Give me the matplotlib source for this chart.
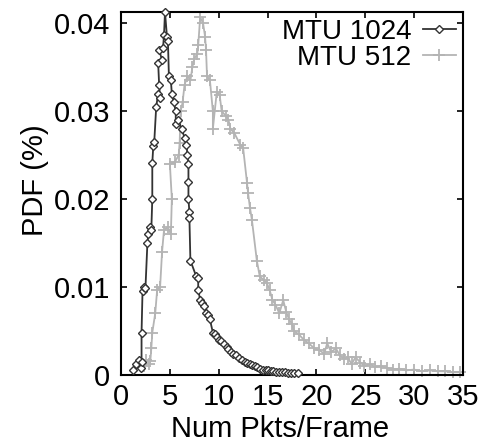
import matplotlib
matplotlib.use("Agg")
import matplotlib.pyplot as plt

# MTU 1024 (dark, diamonds)
x_1024 = [1.2, 1.5, 1.8, 2.0, 2.1, 2.1, 2.2, 2.3, 2.5, 2.7, 2.8, 3.0, 3.1, 3.2,
          3.2, 3.3, 3.4, 3.6, 3.8, 4.0, 3.9, 3.8, 4.2, 3.9, 4.3, 4.4, 4.5, 4.7,
          4.8, 4.9, 5.1, 5.2, 5.4, 5.6, 5.6, 5.8, 6.2, 6.5, 6.7, 6.8, 6.9, 6.9,
          6.9, 7.0, 7.0, 7.1, 7.7, 7.9, 7.9, 8.1, 8.3, 8.5, 8.7, 8.9, 9.1, 9.4,
          9.6, 9.8, 10.0, 10.2, 10.5, 10.8, 11.0, 11.3, 11.5, 11.8, 12.1, 12.4,
          12.7, 12.9, 13.2, 13.4, 13.7, 13.9, 14.2, 14.5, 14.8, 15.0, 15.3, 15.6,
          15.9, 16.2, 16.5, 16.8, 17.1, 17.4, 17.7, 18.1]
y_1024 = [0.0006, 0.0012, 0.0017, 0.0008, 0.0015, 0.0048, 0.0095, 0.0100, 0.0099,
          0.0150, 0.0160, 0.0168, 0.0165, 0.0200, 0.0241, 0.0260, 0.0265, 0.0305,
          0.0320, 0.0315, 0.0330, 0.0355, 0.0358, 0.0370, 0.0372, 0.0387, 0.0413,
          0.0385, 0.0380, 0.0340, 0.0335, 0.0320, 0.0310, 0.0300, 0.0285, 0.0290,
          0.0280, 0.0270, 0.0262, 0.0250, 0.0240, 0.0220, 0.0200, 0.0185, 0.0178,
          0.0130, 0.0112, 0.0110, 0.0097, 0.0085, 0.0082, 0.0078, 0.0070, 0.0068,
          0.0063, 0.0048, 0.0046, 0.0043, 0.0040, 0.0038, 0.0035, 0.0032, 0.0029,
          0.0026, 0.0024, 0.0022, 0.0019, 0.0017, 0.0015, 0.0013, 0.0012, 0.0011,
          0.0010, 0.0009, 0.0007, 0.0006, 0.0005, 0.0005, 0.0004, 0.0004, 0.0003,
          0.0003, 0.0003, 0.0003, 0.0002, 0.0002, 0.0002, 0.0002]

# MTU 512 (light grey, plus)
x_512 = [2.3, 2.6, 2.9, 3.0, 3.1, 3.2, 3.5, 3.7, 4.0, 4.2, 4.4, 4.8, 5.1, 5.2,
         5.0, 5.5, 5.9, 6.0, 6.1, 6.3, 6.5, 6.8, 7.1, 7.3, 7.5, 7.8, 7.9, 8.1,
         8.4, 8.6, 8.7, 8.8, 9.1, 9.4, 9.4, 9.8, 10.1, 10.3, 10.7, 11.0, 11.2,
         11.6, 12.2, 12.5, 12.9, 13.0, 13.2, 13.4, 13.9, 14.2, 14.6, 14.9, 15.2,
         15.5, 15.8, 16.2, 16.6, 16.9, 17.2, 17.5, 17.7, 18.2, 18.7, 19.2, 19.8,
         20.3, 20.8, 21.1, 21.5, 22.0, 22.4, 22.8, 23.2, 23.6, 24.0, 24.5, 24.9,
         25.5, 26.0, 26.6, 27.2, 27.8, 28.5, 29.2, 30.0, 30.8, 31.6, 32.4, 33.2,
         34.0, 34.7]
y_512 = [0.0010, 0.0017, 0.0012, 0.0016, 0.0030, 0.0048, 0.0070, 0.0097, 0.0100,
         0.0140, 0.0165, 0.0168, 0.0160, 0.0200, 0.0240, 0.0242, 0.0250, 0.0264,
         0.0300, 0.0310, 0.0330, 0.0340, 0.0335, 0.0350, 0.0360, 0.0365, 0.0375,
         0.0407, 0.0400, 0.0385, 0.0370, 0.0340, 0.0335, 0.0300, 0.0280, 0.0322,
         0.0318, 0.0300, 0.0295, 0.0290, 0.0280, 0.0275, 0.0262, 0.0258, 0.0218,
         0.0207, 0.0190, 0.0176, 0.0130, 0.0112, 0.0108, 0.0105, 0.0097, 0.0085,
         0.0080, 0.0070, 0.0085, 0.0072, 0.0063, 0.0058, 0.0050, 0.0046, 0.0040,
         0.0036, 0.0030, 0.0028, 0.0024, 0.0036, 0.0026, 0.0030, 0.0022, 0.0018,
         0.0020, 0.0012, 0.0020, 0.0014, 0.0010, 0.0012, 0.0009, 0.0010, 0.0008,
         0.0006, 0.0007, 0.0005, 0.0006, 0.0004, 0.0005, 0.0004, 0.0004, 0.0003,
         0.0003]

x_ticks = [0, 5, 10, 15, 20, 25, 30, 35]
y_ticks = [0, 0.01, 0.02, 0.03, 0.04]
y_tick_labels = ["0", "0.01", "0.02", "0.03", "0.04"]

C_DARK = '#333333'
C_LIGHT = '#b4b4b4'

plt.rcParams['font.family'] = ['Liberation Sans', 'DejaVu Sans']

fig = plt.figure(figsize=(4.92, 4.42), dpi=100)
ax = fig.add_axes([0.246, 0.152, 0.695, 0.821])

ax.plot(x_1024, y_1024, color=C_DARK, linewidth=1.3, marker='D', markersize=4.5,
        markerfacecolor='white', markeredgecolor=C_DARK, markeredgewidth=1.0,
        label='MTU 1024', clip_on=False, zorder=3)
ax.plot(x_512, y_512, color=C_LIGHT, linewidth=1.3, marker='+', markersize=9,
        markeredgewidth=1.3, label='MTU 512', clip_on=False, zorder=2)

ax.set_xlim(0, 35)
ax.set_ylim(0, 0.0413)
ax.set_xticks(x_ticks)
ax.set_yticks(y_ticks)
ax.set_yticklabels(y_tick_labels)
ax.tick_params(direction='in', top=True, right=True, length=4, width=1.2,
               labelsize=21)
ax.tick_params(axis='x', pad=6)
ax.tick_params(axis='y', pad=8)
for sp in ax.spines.values():
    sp.set_linewidth(1.5)

ax.set_xlabel("Num Pkts/Frame", fontsize=21)
ax.set_ylabel("PDF (%)", fontsize=21)
ax.xaxis.set_label_coords(0.464, -0.11)
ax.yaxis.set_label_coords(-0.21, 0.537)

ax.legend(loc='upper right', frameon=False, markerfirst=False, fontsize=20,
          handlelength=1.2, handletextpad=0.4, labelspacing=0.0,
          borderaxespad=0.1, borderpad=0.15)

fig.savefig("out.png", dpi=100)
